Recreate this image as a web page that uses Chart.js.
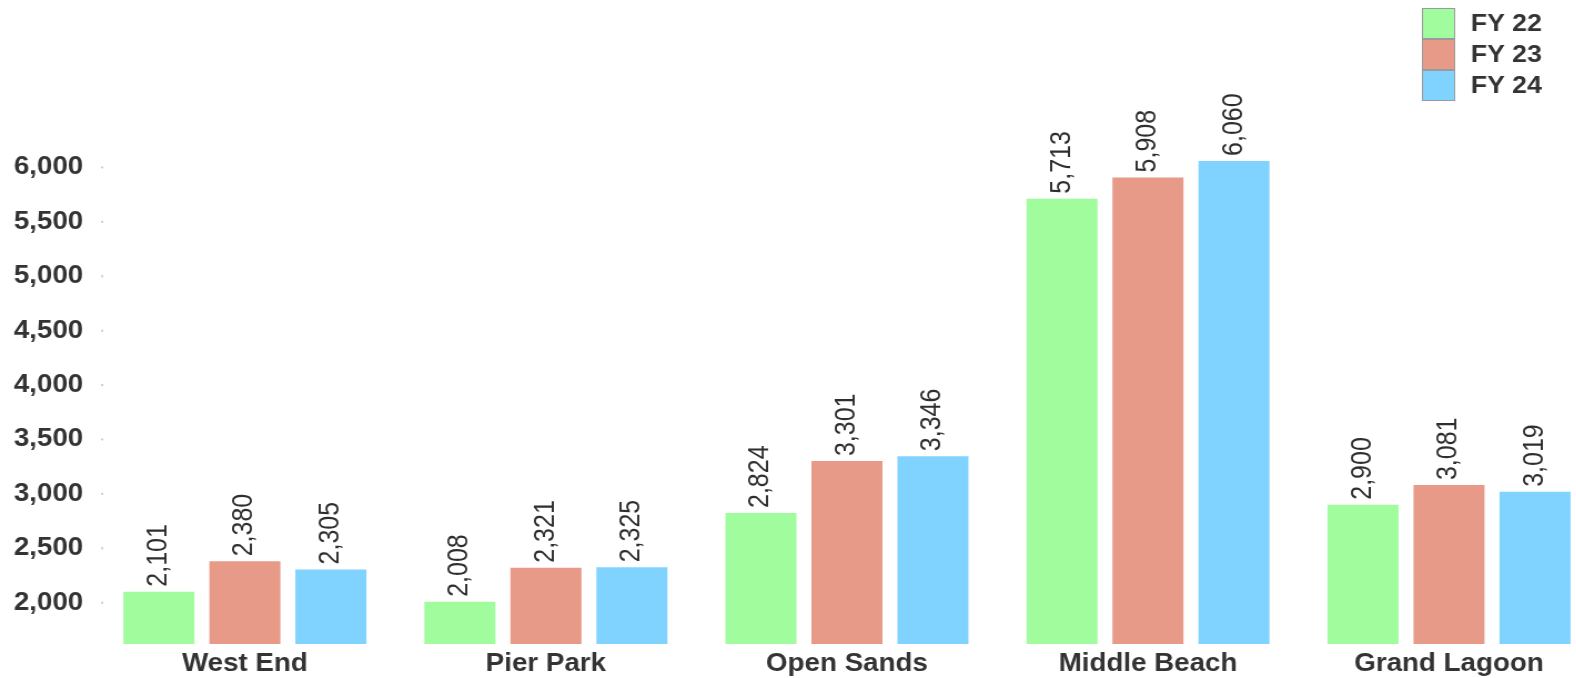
<!DOCTYPE html>
<html>
<head>
<meta charset="utf-8">
<script src="https://cdn.jsdelivr.net/npm/chart.js@4/dist/chart.umd.min.js"></script>
<style>
  html, body { margin: 0; padding: 0; background: #fff; overflow: hidden; width: 1576px; height: 678px; }
  #wrap { transform: scaleX(1.11); transform-origin: 0 0; width: 1441px; height: 678px; }
  canvas { display: block; }
</style>
</head>
<body>
<div id="wrap"><canvas id="c" width="1441" height="678"></canvas></div>
<script>
// Sites and yearly totals
const categories = ['West End', 'Pier Park', 'Open Sands', 'Middle Beach', 'Grand Lagoon'];
const fy22 = [2101, 2008, 2824, 5713, 2900];
const fy23 = [2380, 2321, 3301, 5908, 3081];
const fy24 = [2305, 2325, 3346, 6060, 3019];
const seriesNames = ['FY 22', 'FY 23', 'FY 24'];
const yTickValues = [2000, 2500, 3000, 3500, 4000, 4500, 5000, 5500, 6000];

const colors = ['#a0fc9c', '#e89a88', '#80d2ff'];
const FONT = "'Liberation Sans', Arial, Helvetica, sans-serif";
const TEXT = '#333333';
const fmt = v => v.toLocaleString('en-US');

// Rotated value labels above each bar
const valueLabels = {
  id: 'valueLabels',
  afterDatasetsDraw(chart) {
    const ctx = chart.ctx;
    ctx.save();
    ctx.fillStyle = '#2e2e2e';
    ctx.font = '25px ' + FONT;
    ctx.textAlign = 'left';
    ctx.textBaseline = 'middle';
    chart.data.datasets.forEach((ds, i) => {
      chart.getDatasetMeta(i).data.forEach((bar, j) => {
        ctx.save();
        ctx.translate(bar.x, bar.y - 5);
        ctx.rotate(-Math.PI / 2);
        ctx.fillText(fmt(ds.data[j]), 0, 0);
        ctx.restore();
      });
    });
    ctx.restore();
  }
};

// Small grey dots beside each y tick, and the stacked legend in the top right
const decorations = {
  id: 'decorations',
  afterDraw(chart) {
    const ctx = chart.ctx;
    const y = chart.scales.y;
    ctx.save();
    ctx.fillStyle = '#d0d0d0';
    y.ticks.forEach(t => {
      const py = y.getPixelForValue(t.value);
      ctx.fillRect(chart.chartArea.left + 6, py - 1, 2, 2);
    });

    const boxX = 1281, boxW = 30, boxH = 31, top = 8;
    ctx.font = 'bold 24px ' + FONT;
    ctx.textBaseline = 'middle';
    ctx.textAlign = 'left';
    chart.data.datasets.forEach((ds, i) => {
      const by = top + i * boxH;
      ctx.fillStyle = ds.backgroundColor;
      ctx.fillRect(boxX, by, boxW, boxH);
      ctx.strokeStyle = '#9a9a9a';
      ctx.lineWidth = 1;
      ctx.strokeRect(boxX + 0.5, by + 0.5, boxW - 1, boxH - 1);
      ctx.fillStyle = TEXT;
      ctx.fillText(ds.label, 1325, by + boxH / 2 + 1);
    });
    ctx.restore();
  }
};

new Chart(document.getElementById('c'), {
  type: 'bar',
  data: {
    labels: categories,
    datasets: [
      { label: seriesNames[0], data: fy22, backgroundColor: colors[0] },
      { label: seriesNames[1], data: fy23, backgroundColor: colors[1] },
      { label: seriesNames[2], data: fy24, backgroundColor: colors[2] }
    ]
  },
  options: {
    responsive: false,
    devicePixelRatio: 1,
    animation: false,
    layout: { padding: { top: 100, right: 0, left: 0, bottom: 0 } },
    datasets: { bar: { categoryPercentage: 0.857, barPercentage: 0.826, borderWidth: 0 } },
    plugins: { legend: { display: false }, tooltip: { enabled: false } },
    scales: {
      x: {
        grid: { display: false, drawTicks: false },
        border: { display: false },
        afterFit(axis) { axis.height = 34; },
        ticks: {
          padding: 5,
          autoSkip: false,
          maxRotation: 0,
          color: TEXT,
          font: { family: FONT, size: 25, weight: 'bold' }
        }
      },
      y: {
        min: 1620,
        max: 6620,
        grid: { display: false, drawTicks: false },
        border: { display: false },
        afterFit(axis) { axis.width = 85; },
        afterBuildTicks(axis) { axis.ticks = yTickValues.map(v => ({ value: v })); },
        ticks: {
          padding: 10,
          color: TEXT,
          font: { family: FONT, size: 25, weight: 'bold' },
          callback: v => fmt(v)
        }
      }
    }
  },
  plugins: [valueLabels, decorations]
});
</script>
</body>
</html>
